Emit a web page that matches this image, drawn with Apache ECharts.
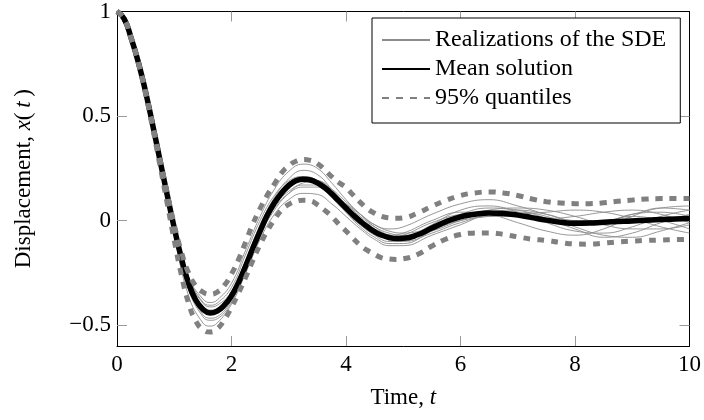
<!DOCTYPE html>
<html>
<head>
<meta charset="utf-8">
<script src="https://cdn.jsdelivr.net/npm/echarts@6/dist/echarts.min.js"></script>
<style>
  html, body { margin: 0; padding: 0; background: #fff; }
  #chart { width: 704px; height: 420px; }
</style>
</head>
<body>
<div id="chart"></div>
<script>
// Time grid for the mean and the 95% quantile curves (finer where the curves bend most)
var tFine = [0, 0.125, 0.25, 0.375, 0.5, 0.625, 0.75, 0.875, 1, 1.125, 1.25, 1.375, 1.5, 1.625, 1.75, 1.875,
  2, 2.125, 2.25, 2.375, 2.5, 2.625, 2.75, 2.875, 3, 3.125, 3.25, 3.375, 3.5, 3.625, 3.75, 3.875,
  4, 4.125, 4.25, 4.375, 4.5, 4.625, 4.75, 4.875, 5,
  5.25, 5.5, 5.75, 6, 6.25, 6.5, 6.75, 7, 7.25, 7.5, 7.75, 8, 8.25, 8.5, 8.75, 9, 9.25, 9.5, 9.75, 10];

var meanSolution = [1, 0.965, 0.87, 0.755, 0.615, 0.455, 0.29, 0.125, -0.035, -0.18, -0.30, -0.38, -0.424, -0.442, -0.433, -0.405,
  -0.36, -0.295, -0.215, -0.13, -0.05, 0.025, 0.085, 0.132, 0.168, 0.19, 0.198, 0.194, 0.18, 0.158, 0.128, 0.094,
  0.06, 0.027, -0.003, -0.03, -0.053, -0.07, -0.081, -0.086, -0.085,
  -0.068, -0.036, -0.005, 0.018, 0.03, 0.036, 0.034, 0.026, 0.014, 0.002, -0.008, -0.013, -0.012, -0.008, -0.005, -0.002, 0.002, 0.005, 0.008, 0.01];

var quantileUpper = [1, 0.965, 0.87, 0.755, 0.615, 0.457, 0.295, 0.135, -0.02, -0.15, -0.25, -0.312, -0.342, -0.352, -0.342, -0.31,
  -0.255, -0.185, -0.10, -0.015, 0.058, 0.122, 0.176, 0.228, 0.262, 0.284, 0.292, 0.288, 0.272, 0.244, 0.21, 0.182,
  0.158, 0.122, 0.087, 0.056, 0.035, 0.02, 0.013, 0.011, 0.013,
  0.036, 0.068, 0.097, 0.12, 0.132, 0.137, 0.132, 0.12, 0.103, 0.09, 0.084, 0.081, 0.081, 0.085, 0.092, 0.098, 0.103, 0.105, 0.105, 0.105];

var quantileLower = [1, 0.965, 0.87, 0.752, 0.605, 0.44, 0.265, 0.085, -0.095, -0.26, -0.395, -0.48, -0.522, -0.533, -0.518, -0.475,
  -0.415, -0.345, -0.27, -0.19, -0.115, -0.05, 0.005, 0.05, 0.077, 0.092, 0.097, 0.094, 0.076, 0.05, 0.02, -0.017,
  -0.05, -0.085, -0.118, -0.143, -0.162, -0.178, -0.184, -0.186, -0.183,
  -0.162, -0.122, -0.088, -0.067, -0.06, -0.059, -0.066, -0.078, -0.089, -0.095, -0.105, -0.112, -0.113, -0.108, -0.102, -0.098, -0.095, -0.093, -0.091, -0.09];

// Time grid for the individual sample paths
var tPath = [0, 0.25, 0.5, 0.75, 1, 1.25, 1.5, 1.625, 1.75, 2, 2.25, 2.5, 2.75, 3, 3.25, 3.5, 3.75, 4, 4.25, 4.5, 4.75, 5,
  5.5, 6, 6.5, 7, 7.5, 8, 8.5, 9, 9.5, 10];

var path1 = [1, 0.87, 0.61, 0.29, -0.02, -0.27, -0.375, -0.392, -0.38, -0.30, -0.14, 0.02, 0.15, 0.235, 0.27, 0.25, 0.18, 0.10, 0.03, -0.02, -0.04, -0.03, 0.03, 0.08, 0.10, 0.07, 0.03, 0.00, 0.00, 0.03, 0.06, 0.07];
var path2 = [1, 0.87, 0.60, 0.27, -0.07, -0.36, -0.49, -0.505, -0.49, -0.40, -0.25, -0.09, 0.03, 0.10, 0.13, 0.125, 0.08, 0.02, -0.04, -0.09, -0.12, -0.12, -0.07, -0.02, 0.03, 0.04, 0.02, -0.03, -0.07, -0.08, -0.05, -0.01];
var path3 = [1, 0.87, 0.61, 0.28, -0.03, -0.29, -0.41, -0.428, -0.42, -0.35, -0.20, -0.03, 0.10, 0.18, 0.21, 0.19, 0.12, 0.05, -0.02, -0.07, -0.10, -0.09, -0.02, 0.05, 0.07, 0.04, -0.01, -0.05, -0.06, -0.03, 0.02, 0.05];
var path4 = [1, 0.87, 0.61, 0.28, -0.05, -0.31, -0.43, -0.447, -0.44, -0.37, -0.22, -0.06, 0.07, 0.15, 0.19, 0.19, 0.14, 0.08, 0.02, -0.03, -0.06, -0.07, -0.04, 0.00, 0.02, 0.03, 0.04, 0.05, 0.04, 0.01, -0.03, -0.06];
var path5 = [1, 0.87, 0.61, 0.29, -0.03, -0.28, -0.395, -0.413, -0.405, -0.34, -0.19, -0.02, 0.11, 0.20, 0.24, 0.22, 0.15, 0.07, 0.00, -0.05, -0.07, -0.06, 0.00, 0.04, 0.03, -0.01, -0.05, -0.07, -0.04, 0.02, 0.06, 0.05];
var path6 = [1, 0.87, 0.60, 0.27, -0.06, -0.33, -0.46, -0.477, -0.47, -0.39, -0.23, -0.06, 0.06, 0.13, 0.16, 0.16, 0.11, 0.05, -0.01, -0.06, -0.09, -0.10, -0.06, -0.01, 0.02, 0.02, 0.00, -0.02, -0.01, 0.03, 0.04, 0.02];
var path7 = [1, 0.87, 0.61, 0.28, -0.04, -0.30, -0.42, -0.437, -0.43, -0.36, -0.21, -0.05, 0.07, 0.14, 0.17, 0.17, 0.13, 0.08, 0.03, -0.02, -0.05, -0.06, -0.03, 0.03, 0.06, 0.05, 0.01, -0.04, -0.08, -0.06, -0.01, 0.03];
var path8 = [1, 0.87, 0.61, 0.28, -0.04, -0.29, -0.415, -0.433, -0.425, -0.36, -0.20, -0.03, 0.10, 0.18, 0.21, 0.19, 0.12, 0.04, -0.03, -0.08, -0.11, -0.11, -0.05, 0.01, 0.05, 0.06, 0.05, 0.02, -0.02, -0.04, -0.04, -0.02];
var path9 = [1, 0.87, 0.61, 0.29, -0.02, -0.27, -0.39, -0.405, -0.395, -0.32, -0.16, 0.00, 0.12, 0.19, 0.21, 0.18, 0.11, 0.04, -0.02, -0.06, -0.08, -0.07, -0.01, 0.03, 0.04, 0.02, 0.01, 0.02, 0.04, 0.05, 0.03, -0.01];
var path10 = [1, 0.87, 0.60, 0.27, -0.05, -0.32, -0.45, -0.467, -0.46, -0.38, -0.23, -0.07, 0.05, 0.13, 0.18, 0.19, 0.15, 0.09, 0.03, -0.03, -0.07, -0.08, -0.05, 0.00, 0.04, 0.05, 0.03, 0.00, 0.00, 0.02, 0.00, -0.04];

var samplePaths = [path1, path2, path3, path4, path5, path6, path7, path8, path9, path10];

var xTicks = [0, 2, 4, 6, 8, 10];
var yTicks = [-0.5, 0, 0.5, 1];

var SERIF = '"Liberation Serif", "DejaVu Serif", serif';

function pairs(t, v) {
  return t.map(function (x, i) { return [x, v[i]]; });
}
function fmtNum(v) {
  return v < 0 ? '\u2212' + String(Math.abs(v)) : String(v);
}

var series = [];
samplePaths.forEach(function (p) {
  series.push({
    name: 'Realizations of the SDE',
    type: 'line',
    data: pairs(tPath, p),
    smooth: 0.45,
    showSymbol: false,
    symbol: 'none',
    silent: true,
    lineStyle: { color: '#8c8c8c', width: 0.9 },
    itemStyle: { color: '#8c8c8c' },
    z: 2
  });
});
series.push({
  name: 'Mean solution',
  type: 'line',
  data: pairs(tFine, meanSolution),
  smooth: 0.5,
  showSymbol: false,
  symbol: 'none',
  lineStyle: { color: '#000', width: 5.5 },
  itemStyle: { color: '#000' },
  z: 3
});
[quantileUpper, quantileLower].forEach(function (q) {
  series.push({
    name: '95% quantiles',
    type: 'line',
    data: pairs(tFine, q),
    smooth: 0.5,
    showSymbol: false,
    symbol: 'none',
    lineStyle: { color: '#808080', width: 5, type: [7, 7], cap: 'butt' },
    itemStyle: { color: '#808080' },
    z: 4
  });
});

var axisCommonX = {
  type: 'value', min: 0, max: 10, interval: 2,
  axisLine: { show: true, onZero: false, lineStyle: { color: '#000', width: 1 } },
  axisTick: { show: true, inside: true, length: 10, lineStyle: { color: '#9a9a9a', width: 1 } },
  splitLine: { show: false }
};
var axisCommonY = {
  type: 'value', min: -0.6, max: 1,
  axisLine: { show: true, onZero: false, lineStyle: { color: '#000', width: 1 } },
  axisTick: { show: true, inside: true, length: 10, lineStyle: { color: '#9a9a9a', width: 1 } },
  splitLine: { show: false }
};

var chart = echarts.init(document.getElementById('chart'), null, { renderer: 'canvas' });
chart.setOption({
  animation: false,
  backgroundColor: '#fff',
  grid: { left: 117, right: 12, top: 11, bottom: 74, containLabel: false },
  legend: {
    orient: 'vertical',
    left: 372, top: 18,
    padding: [10, 14, 13, 9],
    backgroundColor: '#fff',
    borderColor: '#000',
    borderWidth: 1,
    borderRadius: 0,
    itemWidth: 48,
    itemHeight: 10,
    itemGap: 5,
    selectedMode: false,
    itemStyle: { opacity: 0 },
    data: ['Realizations of the SDE', 'Mean solution', '95% quantiles'],
    textStyle: { fontFamily: SERIF, fontSize: 24, color: '#000', lineHeight: 23 }
  },
  xAxis: [
    Object.assign({}, axisCommonX, {
      position: 'bottom',
      name: 'Time, {i|t}',
      nameLocation: 'middle',
      nameGap: 40,
      nameTextStyle: {
        fontFamily: SERIF, fontSize: 23, color: '#000',
        rich: { i: { fontFamily: SERIF, fontSize: 23, fontStyle: 'italic', color: '#000' } }
      },
      axisTick: Object.assign({}, axisCommonX.axisTick, { customValues: xTicks.slice(1, -1) }),
      axisLabel: {
        customValues: xTicks, formatter: fmtNum, margin: 7,
        fontFamily: SERIF, fontSize: 23, color: '#000'
      }
    }),
    Object.assign({}, axisCommonX, {
      position: 'top',
      axisTick: Object.assign({}, axisCommonX.axisTick, { customValues: xTicks.slice(1, -1) }),
      axisLabel: { show: false }
    })
  ],
  yAxis: [
    Object.assign({}, axisCommonY, {
      position: 'left',
      name: 'Displacement, {i|x}(\u2009{i|t}\u2009)',
      nameLocation: 'middle',
      nameGap: 82,
      nameRotate: 90,
      nameTextStyle: {
        fontFamily: SERIF, fontSize: 23, color: '#000',
        rich: { i: { fontFamily: SERIF, fontSize: 23, fontStyle: 'italic', color: '#000' } }
      },
      axisTick: Object.assign({}, axisCommonY.axisTick, { customValues: [-0.5, 0, 0.5] }),
      axisLabel: {
        customValues: yTicks, formatter: fmtNum, margin: 6,
        fontFamily: SERIF, fontSize: 23, color: '#000'
      }
    }),
    Object.assign({}, axisCommonY, {
      position: 'right',
      axisTick: Object.assign({}, axisCommonY.axisTick, { customValues: [-0.5, 0, 0.5] }),
      axisLabel: { show: false }
    })
  ],
  series: series
});
</script>
</body>
</html>
